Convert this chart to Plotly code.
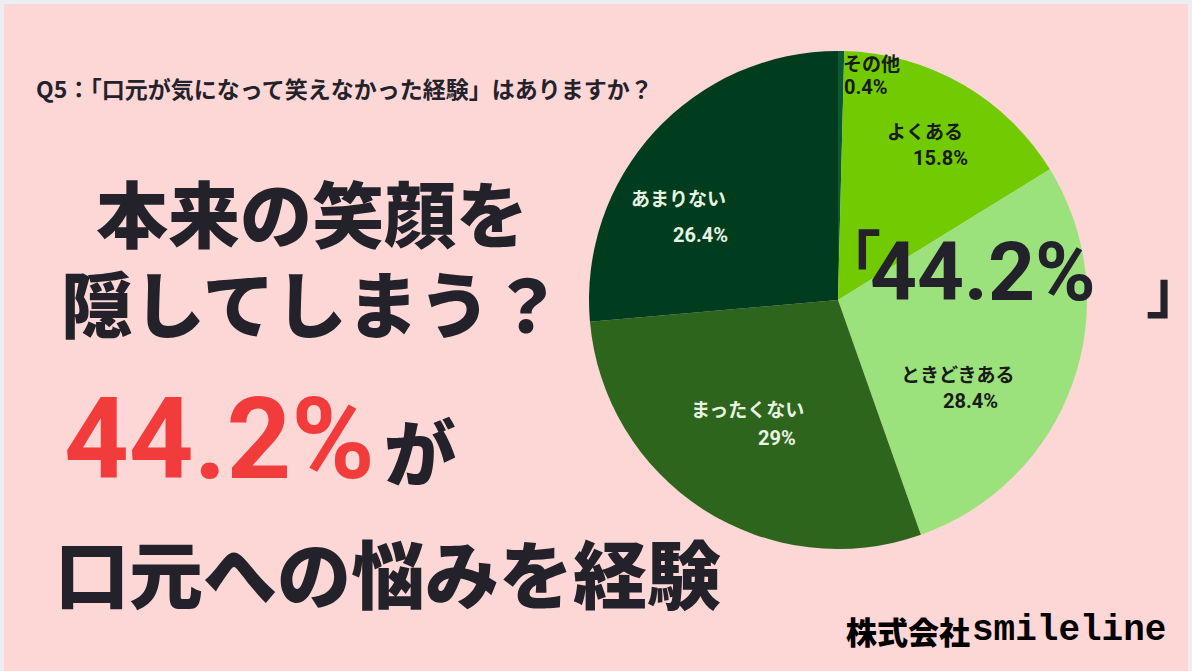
import plotly.graph_objects as go

W, H = 1192, 671

# ---- data ----
categories = ["その他", "よくある", "ときどきある", "まったくない", "あまりない"]
values = [0.4, 15.8, 28.4, 29, 26.4]
slice_colors = ["#0b5a36", "#72cb00", "#9be27c", "#2e651c", "#003d1f"]
label_colors = ["#1a1a1a", "#1a1a1a", "#1a1a1a", "#e8f2e2", "#e8f2e2"]
highlight_value = 44.2  # よくある + ときどきある

question = "Q5：「口元が気になって笑えなかった経験」はありますか？"
headline1 = "本来の笑顔を"
headline2 = "隠してしまう？"
headline4 = "口元への悩みを経験"
company = "株式会社"
brand = "smileline"

# label positions (pixels) for name and percentage of each slice
name_pos = [(871, 62), (925, 130), (957, 373), (747, 409), (678, 197)]
pct_pos = [(866, 87), (940, 158), (970, 401), (777, 438), (700, 235)]

JP = "Noto Sans CJK JP"
NUM = "Roboto"
DARK = "#23222b"
RED = "#f23b3b"


def px(x, y):
    return x / W, 1 - y / H


fig = go.Figure()
fig.add_trace(go.Pie(
    labels=categories,
    values=values,
    sort=False,
    direction="clockwise",
    rotation=0,
    marker=dict(colors=slice_colors, line=dict(width=0)),
    textinfo="none",
    hoverinfo="label+percent",
    domain=dict(x=[589 / W, 1087 / W], y=[1 - 549 / H, 1 - 51 / H]),
    showlegend=False,
))

ann = []


def add(text, x, y, size, color=DARK, family=JP, xanchor="center", weight=700):
    fx, fy = px(x, y)
    ann.append(dict(text=text, x=fx, y=fy, xref="paper", yref="paper",
                    xanchor=xanchor, yanchor="middle", showarrow=False,
                    font=dict(family=family, size=size, color=color, weight=weight)))


# slice labels
for cat, val, col, (nx, ny), (qx, qy) in zip(categories, values, label_colors, name_pos, pct_pos):
    add(cat, nx, ny, 19, col)
    add(f"{val:g}%", qx, qy, 20, col, family=NUM)

# question
add(question, 34, 88, 23, DARK, xanchor="left")

# headlines
hv = f"{highlight_value:g}%"
add(headline1, 312, 210, 72, DARK, weight=900)
add(headline2, 312, 300, 72, DARK, weight=900)
add(hv, 62, 440, 113, RED, family=NUM, xanchor="left")
add("が", 420, 448, 72, DARK, weight=900)
add(headline4, 388, 570, 74, DARK, weight=900)

# big highlight on pie
add("「", 850, 256, 62, DARK)
add(hv, 983, 272, 82, DARK, family=NUM)
add("」", 1176, 286, 60, DARK)

# company
add(company, 972, 630, 31, "#000000", xanchor="right", weight=900)
add(brand, 970, 630, 36, "#000000", family="Liberation Mono, DejaVu Sans Mono", xanchor="left")

fig.update_layout(
    width=W, height=H,
    margin=dict(l=0, r=0, t=0, b=0),
    paper_bgcolor="#eceef1",
    plot_bgcolor="#fdd6d6",
    annotations=ann,
    shapes=[dict(type="rect", xref="paper", yref="paper",
                 x0=4 / W, x1=1188 / W, y0=0, y1=1 - 4 / H,
                 fillcolor="#fdd6d6", line=dict(width=0), layer="below")],
)

fig.write_html("out.html")
